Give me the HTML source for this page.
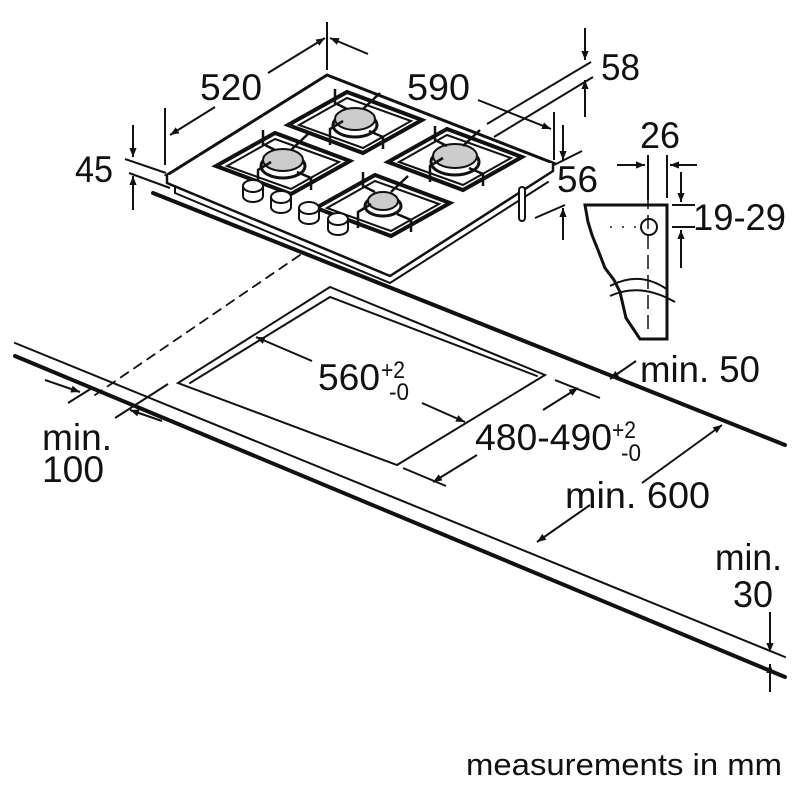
<!DOCTYPE html>
<html><head><style>html,body{margin:0;padding:0;background:#fff}svg{display:block}
text{font-family:"Liberation Sans",Arial,sans-serif;fill:#111}</style></head>
<body>
<svg width="800" height="800" viewBox="0 0 800 800" xmlns="http://www.w3.org/2000/svg">
<defs>
<marker id="a" viewBox="0 0 10 10" refX="10" refY="5" markerWidth="9" markerHeight="9" orient="auto-start-reverse" markerUnits="userSpaceOnUse"><path d="M0,1 L10,5 L0,9 z" fill="#111"/></marker>
</defs>
<g stroke="#111" fill="none" stroke-linecap="round">
<line x1="153" y1="193" x2="785" y2="445" stroke-width="4"/>
<line x1="15" y1="343" x2="785" y2="657" stroke-width="2"/>
<line x1="15" y1="356" x2="785" y2="677" stroke-width="4"/>
<line x1="300" y1="255" x2="95" y2="395" stroke-width="1.8" stroke-dasharray="9,7"/>
<path d="M330,287 L178,383 L397,465 L545,375 Z" stroke-width="2" fill="#fff"/>
<path d="M190,383 L330,297 L537,376" stroke-width="2"/>
<path d="M167,175 L327,75 L553,163 L390,268 Z" stroke-width="3" fill="#fff"/>
<path d="M167,175 L167,183 L390,276 L553,171 L553,163" stroke-width="2.5" fill="#fff"/>
<path d="M175,186 L175,193 L390,283 L548,182" stroke-width="2"/>
<line x1="522" y1="190" x2="522" y2="218" stroke-width="8"/>
<line x1="522" y1="190" x2="522" y2="218" stroke-width="4" stroke="#fff"/>
</g>
<g stroke="#111" stroke-width="3" fill="#fff">
<g transform="translate(355,123)"><path d="M-67,2 L-8,-31 L67,-3 L8,30 Z" stroke-width="4"/><path d="M-56,2 L-8,-25 L56,-2 L8,25 Z" stroke-width="2"/><ellipse cx="0" cy="2" rx="22" ry="12"/><ellipse cx="0" cy="-4" rx="20" ry="11" fill="#ccc" stroke-width="2"/><path d="M-12,-2 L-25,6 L-25,22 M14,8 L28,14 L28,26 M-8,-14 L-20,-20 L-20,-34 M8,-14 L25,-30" stroke-width="2.5" fill="none"/></g>
<g transform="translate(283,164)"><path d="M-67,2 L-8,-31 L67,-3 L8,30 Z" stroke-width="4"/><path d="M-56,2 L-8,-25 L56,-2 L8,25 Z" stroke-width="2"/><ellipse cx="0" cy="2" rx="22" ry="12"/><ellipse cx="0" cy="-4" rx="20" ry="11" fill="#ccc" stroke-width="2"/><path d="M-12,-2 L-25,6 L-25,22 M14,8 L28,14 L28,26 M-8,-14 L-20,-20 L-20,-34 M8,-14 L25,-30" stroke-width="2.5" fill="none"/></g>
<g transform="translate(455,160)"><path d="M-67,2 L-8,-31 L67,-3 L8,30 Z" stroke-width="4"/><path d="M-56,2 L-8,-25 L56,-2 L8,25 Z" stroke-width="2"/><ellipse cx="0" cy="2" rx="24" ry="13"/><ellipse cx="0" cy="-4" rx="22" ry="12" fill="#ccc" stroke-width="2"/><path d="M-12,-2 L-25,6 L-25,22 M14,8 L28,14 L28,26 M-8,-14 L-20,-20 L-20,-34 M8,-14 L25,-30" stroke-width="2.5" fill="none"/></g>
<g transform="translate(383,206)"><path d="M-67,2 L-8,-31 L67,-3 L8,30 Z" stroke-width="4"/><path d="M-56,2 L-8,-25 L56,-2 L8,25 Z" stroke-width="2"/><ellipse cx="0" cy="0" rx="18" ry="10"/><ellipse cx="0" cy="-5" rx="15" ry="9" fill="#ccc" stroke-width="2"/><path d="M-12,-2 L-25,6 L-25,22 M14,8 L28,14 L28,26 M-8,-14 L-20,-20 L-20,-34 M8,-14 L25,-30" stroke-width="2.5" fill="none"/></g>
</g>
<g stroke="#111" stroke-width="2" fill="#fff">
<path d="M243,186 v10 a10,6 0 0 0 20,0 v-10"/><ellipse cx="253" cy="186" rx="10" ry="6"/>
<path d="M271,197 v10 a10,6 0 0 0 20,0 v-10"/><ellipse cx="281" cy="197" rx="10" ry="6"/>
<path d="M299,208 v10 a10,6 0 0 0 20,0 v-10"/><ellipse cx="309" cy="208" rx="10" ry="6"/>
<path d="M328,219 v10 a10,6 0 0 0 20,0 v-10"/><ellipse cx="338" cy="219" rx="10" ry="6"/>
</g>
<g stroke="#111" stroke-width="2" fill="none">
<line x1="327" y1="22" x2="327" y2="70"/>
<line x1="268" y1="73" x2="325" y2="38" marker-end="url(#a)"/>
<line x1="215" y1="107" x2="170" y2="135" marker-end="url(#a)"/>
<line x1="165" y1="108" x2="165" y2="165"/>
<line x1="368" y1="54" x2="330" y2="38" marker-end="url(#a)"/>
<line x1="478" y1="100" x2="551" y2="129" marker-end="url(#a)"/>
<line x1="554" y1="112" x2="554" y2="160"/>
<line x1="591" y1="62" x2="487" y2="124"/>
<line x1="593" y1="77" x2="494" y2="137"/>
<line x1="585" y1="28" x2="585" y2="60" marker-end="url(#a)"/>
<line x1="585" y1="117" x2="585" y2="80" marker-end="url(#a)"/>
<line x1="125" y1="159" x2="166" y2="173"/>
<line x1="129" y1="173" x2="170" y2="188"/>
<line x1="133" y1="125" x2="133" y2="157" marker-end="url(#a)"/>
<line x1="133" y1="210" x2="133" y2="176" marker-end="url(#a)"/>
<line x1="554" y1="165" x2="582" y2="151"/>
<line x1="535" y1="218" x2="565" y2="205"/>
<line x1="563" y1="125" x2="563" y2="160" marker-end="url(#a)"/>
<line x1="563" y1="240" x2="563" y2="208" marker-end="url(#a)"/>
<path d="M585,205 L667,205 L667,339 L640,339 L626,318 L620,292 L614,280 L605,268 L598,250 L592,235 L588,222 Z" stroke-width="3" fill="#fff"/>
<path d="M610,286 Q640,270 668,290 M610,296 Q640,282 675,302" stroke-width="2"/>
<line x1="648" y1="195" x2="648" y2="335" stroke-dasharray="14,6" stroke-width="1.5"/>
<line x1="610" y1="227" x2="640" y2="227" stroke-width="1.5" stroke-dasharray="2,10"/>
<circle cx="649" cy="227" r="8"/>
<line x1="648" y1="155" x2="648" y2="200"/>
<line x1="667" y1="155" x2="667" y2="198"/>
<line x1="617" y1="165" x2="645" y2="165" marker-end="url(#a)"/>
<line x1="697" y1="165" x2="670" y2="165" marker-end="url(#a)"/>
<line x1="672" y1="205" x2="695" y2="205"/>
<line x1="672" y1="227" x2="695" y2="227"/>
<line x1="681" y1="172" x2="681" y2="202" marker-end="url(#a)"/>
<line x1="681" y1="268" x2="681" y2="230" marker-end="url(#a)"/>
<line x1="312" y1="361" x2="256" y2="337" marker-end="url(#a)"/>
<line x1="422" y1="403" x2="465" y2="422" marker-end="url(#a)"/>
<line x1="555" y1="380" x2="600" y2="398"/>
<line x1="403" y1="468" x2="446" y2="486"/>
<line x1="543" y1="410" x2="578" y2="388" marker-end="url(#a)"/>
<line x1="477" y1="455" x2="433" y2="482" marker-end="url(#a)"/>
<line x1="636" y1="361" x2="610" y2="379" marker-end="url(#a)"/>
<line x1="642" y1="483" x2="722" y2="425" marker-end="url(#a)"/>
<line x1="590" y1="505" x2="537" y2="542" marker-end="url(#a)"/>
<line x1="45" y1="380" x2="80" y2="392" marker-end="url(#a)"/>
<line x1="68" y1="403" x2="92" y2="388"/>
<line x1="115" y1="418" x2="168" y2="384"/>
<line x1="162" y1="421" x2="130" y2="410" marker-end="url(#a)"/>
<line x1="770" y1="612" x2="770" y2="652" marker-end="url(#a)"/>
<line x1="770" y1="692" x2="770" y2="664" marker-end="url(#a)"/>
</g>
<g font-size="37" lengthAdjust="spacingAndGlyphs">
<text x="200" y="100" textLength="62" lengthAdjust="spacingAndGlyphs">520</text>
<text x="407" y="100" textLength="63" lengthAdjust="spacingAndGlyphs">590</text>
<text x="601" y="80" textLength="39" lengthAdjust="spacingAndGlyphs">58</text>
<text x="75" y="182" textLength="38" lengthAdjust="spacingAndGlyphs">45</text>
<text x="557" y="192" textLength="41" lengthAdjust="spacingAndGlyphs">56</text>
<text x="640" y="148" textLength="40" lengthAdjust="spacingAndGlyphs">26</text>
<text x="693" y="230" textLength="93" lengthAdjust="spacingAndGlyphs">19-29</text>
<text x="318" y="390" textLength="62" lengthAdjust="spacingAndGlyphs">560</text>
<text x="381" y="378" font-size="24" textLength="24" lengthAdjust="spacingAndGlyphs">+2</text>
<text x="389" y="400" font-size="24" textLength="20" lengthAdjust="spacingAndGlyphs">-0</text>
<text x="475" y="450" textLength="137" lengthAdjust="spacingAndGlyphs">480-490</text>
<text x="612" y="438" font-size="24" textLength="24" lengthAdjust="spacingAndGlyphs">+2</text>
<text x="621" y="461" font-size="24" textLength="20" lengthAdjust="spacingAndGlyphs">-0</text>
<text x="640" y="382" textLength="120" lengthAdjust="spacingAndGlyphs">min. 50</text>
<text x="565" y="508" textLength="145" lengthAdjust="spacingAndGlyphs">min. 600</text>
<text x="42" y="450" textLength="70" lengthAdjust="spacingAndGlyphs">min.</text>
<text x="42" y="482" textLength="62" lengthAdjust="spacingAndGlyphs">100</text>
<text x="715" y="570" textLength="67" lengthAdjust="spacingAndGlyphs">min.</text>
<text x="733" y="607" textLength="40" lengthAdjust="spacingAndGlyphs">30</text>
<text x="466" y="775" font-size="31" textLength="316" lengthAdjust="spacingAndGlyphs">measurements in mm</text>
</g>
</svg>
</body></html>
